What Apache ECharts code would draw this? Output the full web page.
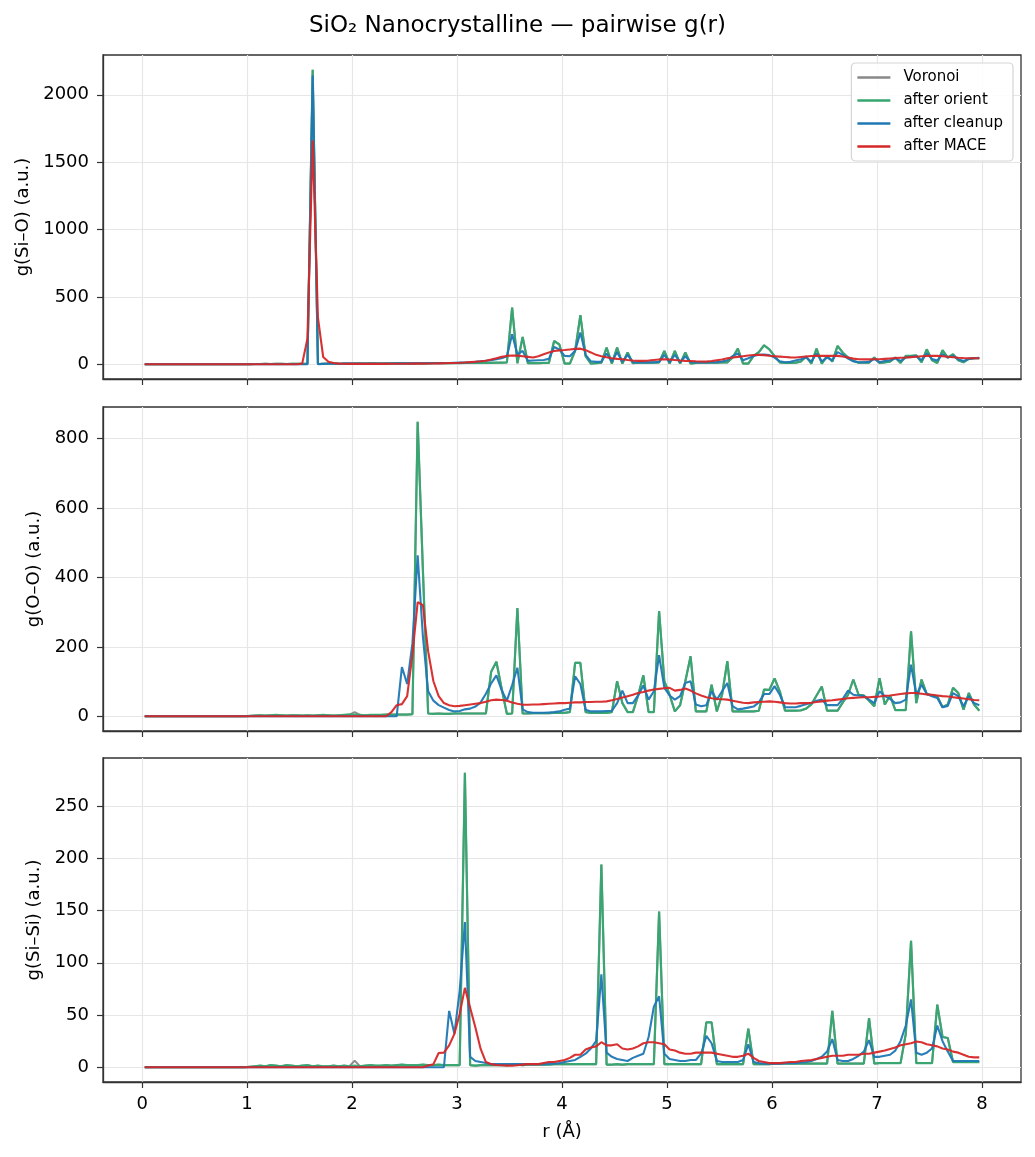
<!DOCTYPE html>
<html>
<head>
<meta charset="utf-8">
<script src="https://cdn.jsdelivr.net/npm/echarts@6/dist/echarts.min.js"></script>
<style>
  html, body { margin: 0; padding: 0; background: #fff; }
  #chart { width: 1035px; height: 1157px; }
</style>
</head>
<body>
<div id="chart"></div>
<script>
// bin centres, r (Å)
var R = [
  0.025,0.075,0.125,0.175,0.225,0.275,0.325,0.375,0.425,0.475,0.525,0.575,0.625,0.675,0.725,0.775,0.825,0.875,0.925,0.975,
  1.025,1.075,1.125,1.175,1.225,1.275,1.325,1.375,1.425,1.475,1.525,1.575,1.625,1.675,1.725,1.775,1.825,1.875,1.925,1.975,
  2.025,2.075,2.125,2.175,2.225,2.275,2.325,2.375,2.425,2.475,2.525,2.575,2.625,2.675,2.725,2.775,2.825,2.875,2.925,2.975,
  3.025,3.075,3.125,3.175,3.225,3.275,3.325,3.375,3.425,3.475,3.525,3.575,3.625,3.675,3.725,3.775,3.825,3.875,3.925,3.975,
  4.025,4.075,4.125,4.175,4.225,4.275,4.325,4.375,4.425,4.475,4.525,4.575,4.625,4.675,4.725,4.775,4.825,4.875,4.925,4.975,
  5.025,5.075,5.125,5.175,5.225,5.275,5.325,5.375,5.425,5.475,5.525,5.575,5.625,5.675,5.725,5.775,5.825,5.875,5.925,5.975,
  6.025,6.075,6.125,6.175,6.225,6.275,6.325,6.375,6.425,6.475,6.525,6.575,6.625,6.675,6.725,6.775,6.825,6.875,6.925,6.975,
  7.025,7.075,7.125,7.175,7.225,7.275,7.325,7.375,7.425,7.475,7.525,7.575,7.625,7.675,7.725,7.775,7.825,7.875,7.925,7.975
];

// ---- g(Si-O) ----
var sio_voronoi = [
  0,0,0,0,0,0,0,0,0,0,0,0,0,0,0,0,0,0,0,0,
  1,2,2,3,2,3,3,2,3,3,3,3,2186,2,4,5,5,4,5,5,
  5,6,5,6,6,5,6,7,6,7,7,6,7,8,7,8,8,9,8,9,
  9,10,10,10,11,10,11,12,12,14,421,8,203,8,8,8,10,10,173,147,
  5,5,100,364,60,5,8,12,124,5,124,5,87,8,12,12,12,12,14,99,
  5,99,5,87,5,10,12,12,12,12,14,14,50,116,5,5,62,90,141,111,
  60,14,10,10,12,20,58,5,116,5,62,20,136,86,50,25,12,12,12,50,
  10,14,20,50,10,62,62,66,15,111,30,10,104,50,74,30,15,40,45,45
];
var sio_orient = [
  0,0,0,0,0,0,0,0,0,0,0,0,0,0,0,0,0,0,0,0,
  1,2,2,3,2,3,3,2,3,3,3,3,2186,2,4,5,5,4,5,5,
  5,6,5,6,6,5,6,7,6,7,7,6,7,8,7,8,8,9,8,9,
  9,10,10,10,11,10,11,12,12,14,421,8,203,8,8,8,10,10,173,147,
  5,5,100,364,60,5,8,12,124,5,124,5,87,8,12,12,12,12,14,99,
  5,99,5,87,5,10,12,12,12,12,14,14,50,116,5,5,62,90,141,111,
  60,14,10,10,12,20,58,5,116,5,62,20,136,86,50,25,12,12,12,50,
  10,14,20,50,10,62,62,66,15,111,30,10,104,50,74,30,15,40,45,45
];
var sio_cleanup = [
  0,0,0,0,0,0,0,0,0,0,0,0,0,0,0,0,0,0,0,0,
  0,0,0,0,0,0,0,0,0,0,0,0,2143,0,3,4,4,4,5,5,
  5,5,5,6,6,6,6,6,7,7,7,7,8,8,8,9,9,10,10,11,
  12,13,15,18,22,26,30,38,45,60,223,74,99,25,28,30,32,40,128,110,
  62,60,100,235,70,22,18,20,80,20,90,18,70,15,14,14,14,15,18,70,
  15,70,15,60,15,14,14,14,15,16,20,30,60,80,30,45,62,70,72,68,
  50,22,15,18,28,38,50,20,80,22,50,30,90,70,42,22,15,15,18,40,
  15,25,30,45,25,50,55,60,30,80,40,28,75,50,62,38,25,40,45,48
];
var sio_mace = [
  0,0,0,0,0,0,0,0,0,0,0,0,0,0,0,0,0,0,0,0,
  0,0,0,0,0,0,0,0,0,0,5,190,1661,347,54,19,9,5,4,3,
  3,3,3,3,3,3,3,4,4,4,4,5,5,5,6,6,7,8,9,10,
  11,13,16,19,22,26,35,45,55,62,65,64,60,55,50,60,75,88,99,103,
  106,110,114,116,105,88,70,60,52,45,40,37,32,28,25,25,28,32,36,37,
  35,32,28,25,24,22,21,20,24,30,36,44,50,55,60,65,69,70,68,63,
  60,57,54,51,50,54,58,61,62,62,62,62,62,58,50,42,37,36,36,37,
  37,40,43,46,48,50,53,56,59,61,62,62,60,56,52,48,46,45,45,45
];

// ---- g(O-O) ----
var oo_voronoi = [
  0,0,0,0,0,0,0,0,0,0,0,0,0,0,0,0,0,0,0,0,
  1,2,3,2,3,4,3,2,3,3,2,3,2,3,4,3,2,3,4,5,
  12,4,3,4,4,4,5,5,5,5,5,6,849,420,8,7,8,7,7,8,
  8,8,8,8,8,8,128,157,80,7,8,312,8,8,9,9,9,9,10,10,
  10,12,154,154,12,10,10,10,10,12,101,38,12,12,60,118,12,12,303,101,
  62,14,32,101,173,14,14,14,91,14,62,159,14,14,14,14,14,16,77,76,
  109,72,16,16,16,17,22,34,60,86,16,16,16,40,62,106,62,60,45,29,
  110,34,60,18,18,18,245,38,106,64,60,58,26,34,82,67,19,67,34,16
];
var oo_orient = [
  0,0,0,0,0,0,0,0,0,0,0,0,0,0,0,0,0,0,0,0,
  1,2,3,2,3,4,3,2,3,3,2,3,2,3,4,3,2,3,4,5,
  5,4,3,4,4,4,5,5,5,5,5,6,849,420,8,7,8,7,7,8,
  8,8,8,8,8,8,128,157,80,7,8,312,8,8,9,9,9,9,10,10,
  10,12,154,154,12,10,10,10,10,12,101,38,12,12,60,118,12,12,303,101,
  62,14,32,101,173,14,14,14,91,14,62,159,14,14,14,14,14,16,77,76,
  109,72,16,16,16,17,22,34,60,86,16,16,16,40,62,106,62,60,45,29,
  110,34,60,18,18,18,245,38,106,64,60,58,26,34,82,67,19,67,34,16
];
var oo_cleanup = [
  0,0,0,0,0,0,0,0,0,0,0,0,0,0,0,0,0,0,0,0,
  0,0,0,0,0,0,0,0,0,0,0,0,0,0,0,0,0,0,0,0,
  0,0,0,0,0,0,0,0,0,142,93,210,464,230,72,45,32,25,18,14,
  15,20,22,28,40,65,95,118,75,45,90,140,20,12,10,10,10,11,12,14,
  19,22,115,93,19,14,14,14,15,16,38,74,38,38,60,89,48,72,176,82,
  60,48,58,96,101,34,29,32,72,48,72,96,29,20,22,25,28,40,64,64,
  87,62,26,26,26,30,35,38,45,48,32,32,32,50,74,62,60,58,48,38,
  72,58,50,38,40,48,149,62,91,64,58,53,26,30,67,58,29,58,38,32
];
var oo_mace = [
  0,0,0,0,0,0,0,0,0,0,0,0,0,0,0,0,0,0,0,0,
  0,0,0,0,0,0,0,0,0,0,0,0,0,0,0,0,0,0,0,0,
  0,0,0,0,0,0,0,12,32,35,58,178,329,320,187,101,58,38,32,29,
  30,32,34,36,38,42,46,48,47,45,40,36,33,33,34,34,35,36,37,38,
  38,39,40,40,41,41,42,42,43,46,50,54,58,62,67,70,74,77,79,81,
  82,74,76,80,74,66,60,55,52,50,49,48,45,42,39,38,40,41,42,43,
  42,40,38,37,37,38,38,39,41,43,45,46,48,50,52,53,54,55,55,56,
  57,59,60,62,64,66,67,67,65,63,62,60,58,57,55,53,51,49,47,46
];

// ---- g(Si-Si) ----
var sisi_voronoi = [
  0,0,0,0,0,0,0,0,0,0,0,0,0,0,0,0,0,0,0,0,
  0.5,1,1.5,1,2,1.5,1,2,1.5,1,1.5,2,1,1.5,1,1,1.5,1,1.5,1,
  6.4,1,1.5,2,1.5,1.5,2,1.5,2,2.5,2,2,2,2.5,2,2,2.5,2,2,2,
  2,282,2,1.5,2,2,2,2,2,2,2.5,2.5,2,2.5,2.5,2.5,2.5,2.5,3,3,
  3,3,3,3,3,3,3,194,2.5,2.5,3,2.5,3,3,3,3,3,3,149,3,
  3,3,3,3,3,3,3,43,43,3,3,3,3,3,3,37,3,3,3,3,
  3.5,3.5,3.5,3.5,3.5,3.5,3.5,3.5,3.5,3.5,3.5,54,3.5,3.5,3.5,3.5,3.5,3.5,47,3.5,
  4,4,4,4,4,32,121,4,4,4,4,60,29,28,5,5,5,5,5,5
];
var sisi_orient = [
  0,0,0,0,0,0,0,0,0,0,0,0,0,0,0,0,0,0,0,0,
  0.5,1,1.5,1,2,1.5,1,2,1.5,1,1.5,2,1,1.5,1,1,1.5,1,1.5,1,
  1.5,1,1.5,2,1.5,1.5,2,1.5,2,2.5,2,2,2,2.5,2,2,2.5,2,2,2,
  2,282,2,1.5,2,2,2,2,2,2,2.5,2.5,2,2.5,2.5,2.5,2.5,2.5,3,3,
  3,3,3,3,3,3,3,194,2.5,2.5,3,2.5,3,3,3,3,3,3,149,3,
  3,3,3,3,3,3,3,43,43,3,3,3,3,3,3,37,3,3,3,3,
  3.5,3.5,3.5,3.5,3.5,3.5,3.5,3.5,3.5,3.5,3.5,54,3.5,3.5,3.5,3.5,3.5,3.5,47,3.5,
  4,4,4,4,4,32,121,4,4,4,4,60,29,28,5,5,5,5,5,5
];
var sisi_cleanup = [
  0,0,0,0,0,0,0,0,0,0,0,0,0,0,0,0,0,0,0,0,
  0,0,0,0,0,0,0,0,0,0,0,0,0,0,0,0,0,0,0,0,
  0,0,0,0,0,0,0,0,0,0,0,0,0,0,0,0,0,0,54,32,
  73,139,10,6,5,4,3,3,3,3,3,3,3,3,3,3,3,3.5,3.5,4,
  5,6,7,10,13,18,25,89,14,10,8,7,6,9,11,13,29,58,68,13,
  8,7,6,6,7,7,13,30,23,6,5,5,5,5,7,22,5,4,3.5,3.5,
  3.5,3.5,4,4,4,4.5,5,6,8,10,15,27,7,6,6,8,11,15,26,10,
  10,11,12,16,25,40,65,14,12,14,18,40,25,15,6,6,6,6,6,6
];
var sisi_mace = [
  0,0,0,0,0,0,0,0,0,0,0,0,0,0,0,0,0,0,0,0,
  0,0,0,0,0,0,0,0,0,0,0,0,0,0,0,0,0,0,0,0,
  0,0,0,0,0,0,0,0,0,0,0,0,0,0,1.6,3,13.7,14,21,32,
  51,76,57,38,17.6,5,3,2.2,2,1.6,1.6,2,2.5,3,3,3,4,5,5,6,
  7,9,12,12,17,19,20,24,21,21,22,18,17,18,20,23,24,24,23,22,
  17,16,14,13,13,14,14,14,14,13,12,11,10,10,11,13,9,6,5,4,
  4,4,4.5,5,5,6,6.5,7,8,9,10,11,11,11,12,12,12,13,13,14,
  15,16,17.6,19,21,22,23,24.6,24,22,21,20,18,17,15,14,12,10,9.5,9.5
];

var seriesNames = ["Voronoi", "after orient", "after cleanup", "after MACE"];
var seriesColors = ["#888888", "#35a670", "#1f77b4", "#d62728"];
var seriesWidths = [2, 2.2, 2.1, 2.1];
var panelNames = ["g(Si\u2013O) (a.u.)", "g(O\u2013O) (a.u.)", "g(Si\u2013Si) (a.u.)"];
var panelData = [
  [sio_voronoi, sio_orient, sio_cleanup, sio_mace],
  [oo_voronoi, oo_orient, oo_cleanup, oo_mace],
  [sisi_voronoi, sisi_orient, sisi_cleanup, sisi_mace]
];
var yTicks = [
  [0, 500, 1000, 1500, 2000],
  [0, 200, 400, 600, 800],
  [0, 50, 100, 150, 200, 250]
];
var xTicks = [0, 1, 2, 3, 4, 5, 6, 7, 8];

var font = "DejaVu Sans";
var gridTops = [55, 407, 758], gridH = 324;
var nameGaps = [70, 60, 60];

function yRange(arrs) {
  var lo = Infinity, hi = -Infinity;
  arrs.forEach(function(a) { a.forEach(function(v) { lo = Math.min(lo, v); hi = Math.max(hi, v); }); });
  var m = (hi - lo) * 0.05;
  return [lo - m, hi + m];
}
var xm = (R[R.length - 1] - R[0]) * 0.05;

var grids = [], xAxes = [], yAxes = [], series = [];
for (var p = 0; p < 3; p++) {
  grids.push({ left: 103, right: 14, top: gridTops[p], height: gridH, show: true,
    borderColor: "#333", borderWidth: 1.3, backgroundColor: "transparent" });
  xAxes.push({
    type: "value", gridIndex: p, min: R[0] - xm, max: R[R.length - 1] + xm,
    name: p === 2 ? "r (\u00c5)" : "", nameLocation: "middle", nameGap: 41,
    nameTextStyle: { fontFamily: font, fontSize: 18, color: "#000" },
    axisLine: { show: true, onZero: false, lineStyle: { color: "#333", width: 1.3 } },
    axisTick: { show: true, length: 6, customValues: xTicks, lineStyle: { color: "#333", width: 1.2 } },
    axisLabel: { show: p === 2, customValues: xTicks, margin: 13, fontFamily: font, fontSize: 18, color: "#000" },
    splitLine: { show: true, lineStyle: { color: "#e6e6e6", width: 1.2 } }
  });
  var yr = yRange(panelData[p]);
  yAxes.push({
    type: "value", gridIndex: p, min: yr[0], max: yr[1],
    name: panelNames[p], nameLocation: "middle", nameGap: nameGaps[p], nameRotate: 90,
    nameTextStyle: { fontFamily: font, fontSize: 18, color: "#000" },
    axisLine: { show: true, onZero: false, lineStyle: { color: "#333", width: 1.3 } },
    axisTick: { show: true, length: 6, customValues: yTicks[p], lineStyle: { color: "#333", width: 1.2 } },
    axisLabel: { customValues: yTicks[p], margin: 14, fontFamily: font, fontSize: 18, color: "#000",
      formatter: function(v) { return String(v); } },
    splitLine: { show: true, lineStyle: { color: "#e6e6e6", width: 1.2 } }
  });
  for (var s = 0; s < 4; s++) {
    var vals = panelData[p][s];
    series.push({
      name: seriesNames[s], type: "line", xAxisIndex: p, yAxisIndex: p,
      symbol: "none", showSymbol: false, silent: true,
      data: R.map(function(r, k) { return [r, vals[k]]; }),
      lineStyle: { color: seriesColors[s], width: seriesWidths[s], opacity: 0.95 },
      itemStyle: { color: seriesColors[s] },
      z: 2 + s
    });
  }
}

var chart = echarts.init(document.getElementById("chart"), null, { renderer: "canvas" });
chart.setOption({
  animation: false,
  backgroundColor: "#fff",
  title: {
    text: "SiO\u2082 Nanocrystalline \u2014 pairwise g(r)",
    left: "center", top: 10,
    textStyle: { fontFamily: font, fontSize: 23, fontWeight: "normal", color: "#000" }
  },
  legend: {
    data: seriesNames, orient: "vertical", right: 22, top: 63,
    icon: "path://M0,0H33V2.4H0Z",
    itemWidth: 33, itemHeight: 15, itemGap: 8,
    padding: [7, 10, 7, 6],
    backgroundColor: "rgba(255,255,255,0.85)", borderColor: "#d5d5d5", borderWidth: 1.2, borderRadius: 4,
    textStyle: { fontFamily: font, fontSize: 15, color: "#000", padding: [0, 0, 0, 8] }
  },
  grid: grids, xAxis: xAxes, yAxis: yAxes, series: series
});
</script>
</body>
</html>
